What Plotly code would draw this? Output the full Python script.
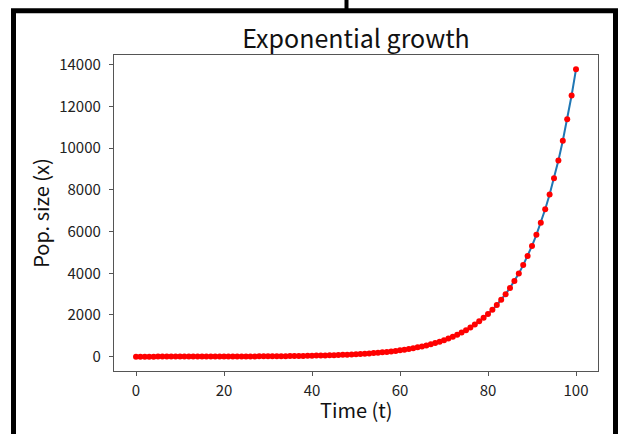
import plotly.graph_objects as go

# Data (population grows ~10% per time step)
time_t = list(range(0, 101))
pop_x = [
    1.0, 1.1, 1.2, 1.3, 1.5, 1.6, 1.8, 1.9, 2.1, 2.4,
    2.6, 2.9, 3.1, 3.5, 3.8, 4.2, 4.6, 5.1, 5.6, 6.1,
    6.7, 7.4, 8.1, 9.0, 9.8, 10.8, 11.9, 13.1, 14.4, 15.9,
    17.4, 19.2, 21.1, 23.2, 25.5, 28.1, 30.9, 34.0, 37.4, 41.1,
    45.3, 49.8, 54.8, 60.2, 66.3, 72.9, 80.2, 88.2, 97.0, 106.7,
    117.4, 129.1, 142.0, 156.2, 171.9, 189.1, 208.0, 228.8, 251.6, 276.8,
    304.5, 334.9, 368.4, 405.3, 445.8, 490.4, 539.4, 593.3, 652.7, 718.0,
    789.7, 868.7, 955.6, 1051.2, 1156.3, 1271.9, 1399.1, 1539.0, 1692.9, 1862.2,
    2048.4, 2253.2, 2478.6, 2726.4, 2999.1, 3299.0, 3628.9, 3991.8, 4390.9, 4830.0,
    5313.0, 5844.3, 6428.8, 7071.6, 7778.8, 8556.7, 9412.3, 10353.6, 11388.9, 12527.8,
    13780.6,
]
x_ticks = [0, 20, 40, 60, 80, 100]
y_ticks = [0, 2000, 4000, 6000, 8000, 10000, 12000, 14000]

title_text = "Exponential growth"
x_label = "Time (t)"
y_label = "Pop. size (x)"

FONT = "Noto Sans CJK JP"

fig = go.Figure()
fig.add_trace(go.Scatter(
    x=time_t, y=pop_x, mode="lines",
    line=dict(color="#1f77b4", width=2),
    showlegend=False, hoverinfo="skip",
))
fig.add_trace(go.Scatter(
    x=time_t, y=pop_x, mode="markers",
    marker=dict(color="#ff0000", size=6, line=dict(width=0)),
    showlegend=False,
))

axis_common = dict(
    showgrid=False, zeroline=False,
    showline=True, mirror=True, linecolor="#555555", linewidth=1.3,
    ticks="outside", ticklen=4, tickwidth=1.2, tickcolor="#555555",
    tickformat="d",
    tickfont=dict(family=FONT, size=15, color="#222222"),
)

ymin, ymax = min(pop_x), max(pop_x)
pad = (ymax - ymin) * 0.05

fig.update_xaxes(
    range=[-5, 105], tickvals=x_ticks, ticklabelstandoff=2,
    **axis_common,
)
fig.update_yaxes(
    range=[ymin - pad, ymax + pad], tickvals=y_ticks, ticklabelstandoff=5,
    title=dict(text=y_label, font=dict(family=FONT, size=20, color="#111111"), standoff=4),
    **axis_common,
)

# Decorative black frame around the figure (open at the bottom) and a connector at the top
W, H = 619, 434
L, R, T, B = 114, 21, 55, 63
pw, ph = W - L - R, H - T - B

def px(xp):
    return (xp - L) / pw

def py(yp):
    return (H - B - yp) / ph

frame_path = (
    f"M {px(13.5)},{py(440)} L {px(13.5)},{py(10.8)} "
    f"L {px(615.5)},{py(10.8)} L {px(615.5)},{py(440)}"
)
shapes = [
    dict(type="path", xref="paper", yref="paper", path=frame_path,
         line=dict(color="black", width=5), fillcolor="rgba(0,0,0,0)"),
    dict(type="line", xref="paper", yref="paper", x0=px(346.5), x1=px(346.5), y0=py(-5), y1=py(10),
         line=dict(color="black", width=4)),
]

fig.update_layout(
    width=W, height=H,
    margin=dict(l=L, r=R, t=T, b=B, autoexpand=False),
    paper_bgcolor="white", plot_bgcolor="white",
    title=dict(text=title_text, x=(L + pw / 2) / W, xanchor="center",
               y=1 - 39 / H, yanchor="middle",
               font=dict(family=FONT, size=25, color="#111111")),
    shapes=shapes,
    annotations=[dict(
        text=x_label, xref="paper", yref="paper", x=0.5, y=py(409),
        xanchor="center", yanchor="middle", showarrow=False,
        font=dict(family=FONT, size=20, color="#111111"),
    )],
)

fig.write_html(
    "out.html",
    config={"displayModeBar": False},
    post_script="document.documentElement.style.margin='0';document.body.style.margin='0';document.body.style.overflow='hidden';",
)
